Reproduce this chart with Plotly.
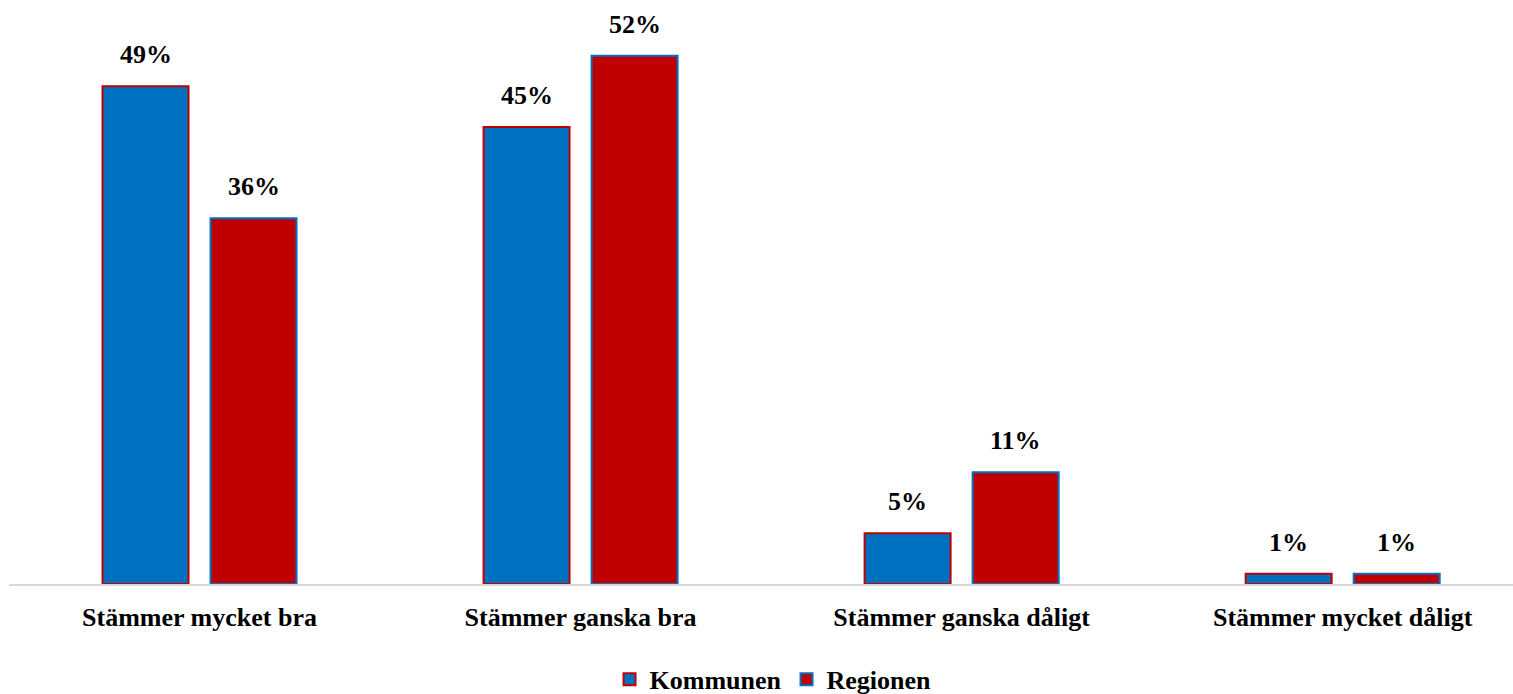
import plotly.graph_objects as go

categories = ["Stämmer mycket bra", "Stämmer ganska bra", "Stämmer ganska dåligt", "Stämmer mycket dåligt"]
kommunen = [49, 45, 5, 1]
regionen = [36, 52, 11, 1]

BLUE = "#0070C0"
RED = "#C00000"
FONT = "Liberation Serif"
FS = 26

fig = go.Figure()
fig.add_trace(go.Bar(
    x=categories, y=kommunen, name="<b>Kommunen</b>",
    marker=dict(color=BLUE, line=dict(color=RED, width=2)),
))
fig.add_trace(go.Bar(
    x=categories, y=regionen, name="<b>Regionen</b>",
    marker=dict(color=RED, line=dict(color=BLUE, width=2)),
))

annotations = []
for vals, shift in ((kommunen, -54), (regionen, 54)):
    for c, v in zip(categories, vals):
        annotations.append(dict(
            x=c, y=v, text=f"<b>{v}%</b>", showarrow=False,
            xshift=shift, yshift=15, yanchor="bottom",
            font=dict(family=FONT, size=FS, color="black"),
        ))

fig.update_layout(
    width=1513, height=694,
    margin=dict(l=9, r=0, t=0, b=110, autoexpand=False),
    paper_bgcolor="white", plot_bgcolor="white",
    barmode="group", bargap=0.433, bargroupgap=0.204,
    annotations=annotations,
    showlegend=True,
    legend=dict(orientation="h", x=0.508, xanchor="center",
                yref="paper", y=-0.123, yanchor="top",
                font=dict(family=FONT, size=FS, color="black"), itemwidth=30,
                traceorder="normal"),
    xaxis=dict(range=[-0.5, 3.447], showline=True, linecolor="#D9D9D9", linewidth=2,
               automargin=False,
               ticks="", tickfont=dict(family=FONT, size=FS, color="black"),
               tickvals=categories, ticktext=[f"<b>{c}</b>" for c in categories],
               ticklabelstandoff=9, fixedrange=True),
    yaxis=dict(range=[0, 57.5], visible=False, showgrid=False, fixedrange=True,
               automargin=False),
)
fig.write_html("out.html", post_script="document.body.style.margin='0';",
               config={"displayModeBar": False})
